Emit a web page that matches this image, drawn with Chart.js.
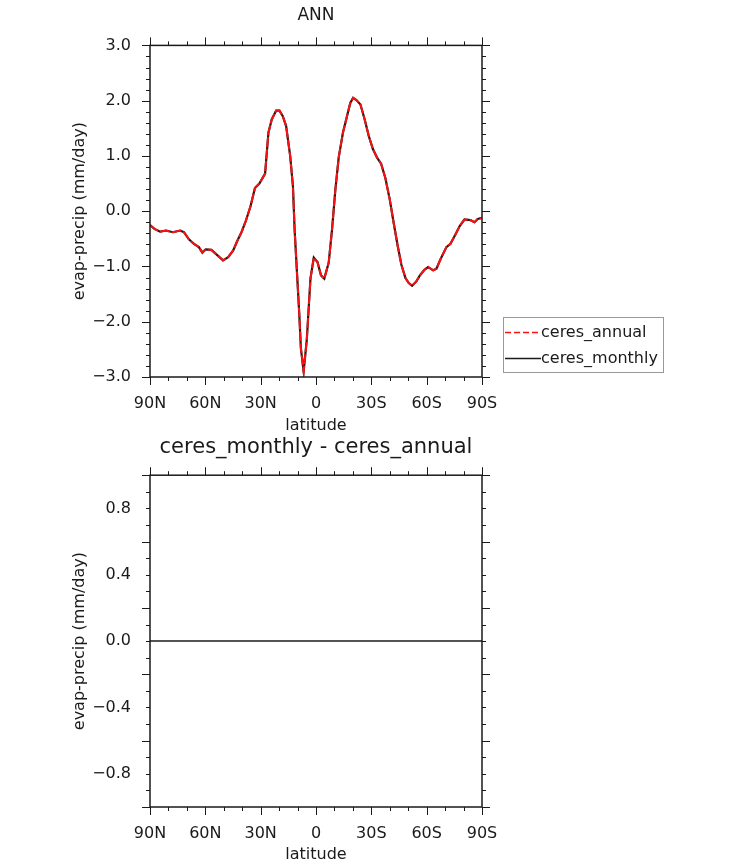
<!DOCTYPE html>
<html>
<head>
<meta charset="utf-8">
<script src="https://cdn.jsdelivr.net/npm/chart.js@4.4.1/dist/chart.umd.min.js"></script>
<style>
  html, body { margin: 0; padding: 0; background: #fff; }
  #wrap { position: relative; width: 733px; height: 866px; }
  #c1 { position: absolute; left: 0; top: 0; }
  #c2 { position: absolute; left: 0; top: 435px; }
</style>
</head>
<body>
<div id="wrap">
  <canvas id="c1" width="733" height="435"></canvas>
  <canvas id="c2" width="733" height="431"></canvas>
</div>
<script>
// ---------------- data ----------------
const latitudes = [
  90, 87.6, 84.5, 81.3, 77.6, 73.6, 71.6, 68.9, 66.2, 63.5,
  61.6, 59.8, 56.7, 54.0, 50.4, 47.6, 44.9, 42.7, 40.4, 38.0,
  35.5, 33.1, 30.7, 27.6, 25.8, 24.0, 21.6, 19.8, 18.0, 16.2,
  14.0, 12.5, 11.6, 10.4, 9.1, 8.2, 6.7, 5.0, 3.0, 1.2,
  -0.8, -2.7, -4.5, -6.9, -8.7, -10.5, -12.3, -14.6, -16.8, -18.6,
  -20.1, -21.9, -24.1, -26.4, -28.6, -30.9, -33.1, -35.3, -37.6, -40.0,
  -42.1, -44.3, -46.3, -48.5, -50.3, -52.1, -54.4, -56.6, -58.8, -60.8,
  -63.5, -65.3, -67.5, -70.7, -72.9, -75.6, -77.9, -80.5, -83.7, -85.9,
  -87.7, -90
];
const ceresAnnual = [
  -0.25, -0.32, -0.37, -0.35, -0.38, -0.35, -0.38, -0.51, -0.59, -0.65,
  -0.75, -0.69, -0.70, -0.78, -0.89, -0.83, -0.71, -0.54, -0.38, -0.17,
  0.09, 0.42, 0.50, 0.68, 1.42, 1.66, 1.82, 1.82, 1.72, 1.54,
  1.00, 0.45, -0.33, -1.06, -1.84, -2.48, -2.90, -2.33, -1.22, -0.84,
  -0.92, -1.16, -1.22, -0.93, -0.33, 0.39, 0.97, 1.42, 1.72, 1.96,
  2.05, 2.01, 1.93, 1.66, 1.36, 1.12, 0.97, 0.86, 0.60, 0.21,
  -0.21, -0.63, -0.97, -1.21, -1.30, -1.35, -1.27, -1.15, -1.06, -1.01,
  -1.07, -1.04, -0.87, -0.65, -0.59, -0.42, -0.27, -0.15, -0.16, -0.20,
  -0.14, -0.12
];
const ceresMonthly = [
  -0.25, -0.32, -0.37, -0.35, -0.38, -0.35, -0.38, -0.51, -0.59, -0.65,
  -0.75, -0.69, -0.70, -0.78, -0.89, -0.83, -0.71, -0.54, -0.38, -0.17,
  0.09, 0.42, 0.50, 0.68, 1.42, 1.66, 1.82, 1.82, 1.72, 1.54,
  1.00, 0.45, -0.33, -1.06, -1.84, -2.48, -2.90, -2.33, -1.22, -0.84,
  -0.92, -1.16, -1.22, -0.93, -0.33, 0.39, 0.97, 1.42, 1.72, 1.96,
  2.05, 2.01, 1.93, 1.66, 1.36, 1.12, 0.97, 0.86, 0.60, 0.21,
  -0.21, -0.63, -0.97, -1.21, -1.30, -1.35, -1.27, -1.15, -1.06, -1.01,
  -1.07, -1.04, -0.87, -0.65, -0.59, -0.42, -0.27, -0.15, -0.16, -0.20,
  -0.14, -0.12
];
const seriesNames = ['ceres_annual', 'ceres_monthly'];
const xTickValues = [90, 60, 30, 0, -30, -60, -90];
const xTickLabels = ['90N', '60N', '30N', '0', '30S', '60S', '90S'];
const topYTicks = [-3, -2, -1, 0, 1, 2, 3];
const bottomYTicks = [-0.8, -0.4, 0, 0.4, 0.8];

// difference panel: monthly minus annual
const diffValues = ceresMonthly.map((v, i) => v - ceresAnnual[i]);

// ---------------- styling ----------------
const FONT = "'DejaVu Sans', 'Liberation Sans', sans-serif";
const INK = '#1a1a1a';
const RED = '#ff1010';

function pts(vals) { return latitudes.map((lat, i) => ({ x: lat, y: vals[i] })); }
function fmtY(v) { return v.toFixed(1).replace('-', '\u2212'); }

// outward ticks on all four sides plus frame
function makeFramePlugin(xMinorStep, xMajorStep, yMin, yMax, yMinorStep, yMajorStep) {
  return {
    id: 'frameTicks',
    afterDraw(chart) {
      const { ctx, chartArea: a, scales: { x, y } } = chart;
      ctx.save();
      ctx.strokeStyle = INK;
      ctx.lineWidth = 1;
      ctx.beginPath();
      const nx = Math.round(180 / xMinorStep);
      for (let i = 0; i <= nx; i++) {
        const v = -90 + i * xMinorStep;
        const px = Math.round(x.getPixelForValue(v)) + 0.5;
        const L = (Math.abs(v) % xMajorStep === 0) ? 8 : 4;
        ctx.moveTo(px, a.bottom); ctx.lineTo(px, a.bottom + L);
        ctx.moveTo(px, a.top); ctx.lineTo(px, a.top - L);
      }
      const ny = Math.round((yMax - yMin) / yMinorStep);
      const ratio = Math.round(yMajorStep / yMinorStep);
      for (let i = 0; i <= ny; i++) {
        const v = yMin + i * yMinorStep;
        const py = Math.round(y.getPixelForValue(v)) + 0.5;
        const major = (Math.round((v - yMin) / yMinorStep) % ratio) === 0;
        const L = major ? 8 : 4;
        ctx.moveTo(a.left, py); ctx.lineTo(a.left - L, py);
        ctx.moveTo(a.right, py); ctx.lineTo(a.right + L, py);
      }
      ctx.stroke();
      ctx.lineWidth = 1.5;
      ctx.strokeRect(a.left, a.top, a.right - a.left, a.bottom - a.top);
      ctx.restore();
    }
  };
}

const legendPlugin = {
  id: 'sideLegend',
  afterDraw(chart) {
    const ctx = chart.ctx;
    ctx.save();
    ctx.strokeStyle = '#999';
    ctx.lineWidth = 1;
    ctx.strokeRect(503.5, 317.5, 160, 55);
    const rows = [
      { y: 332.5, color: RED, dash: [6, 3], label: seriesNames[0] },
      { y: 358.5, color: INK, dash: [], label: seriesNames[1] }
    ];
    ctx.font = '16px ' + FONT;
    ctx.textBaseline = 'middle';
    ctx.textAlign = 'left';
    rows.forEach(r => {
      ctx.beginPath();
      ctx.setLineDash(r.dash);
      ctx.strokeStyle = r.color;
      ctx.lineWidth = 1.5;
      ctx.moveTo(505, r.y); ctx.lineTo(541, r.y);
      ctx.stroke();
      ctx.setLineDash([]);
      ctx.fillStyle = INK;
      ctx.fillText(r.label, 541, r.y);
    });
    ctx.restore();
  }
};

function xScale(bottomHeight, titlePadBottom) {
  return {
    type: 'linear', min: -90, max: 90, reverse: true,
    afterBuildTicks: s => { s.ticks = xTickValues.map(v => ({ value: v })); },
    afterFit: s => { s.height = bottomHeight; },
    grid: { display: false, drawTicks: false },
    border: { display: false },
    ticks: {
      padding: 17, color: INK, font: { family: FONT, size: 16 },
      maxRotation: 0, autoSkip: false,
      callback: v => xTickLabels[xTickValues.indexOf(v)]
    },
    title: { display: true, text: 'latitude', color: INK, font: { family: FONT, size: 16 },
             padding: { top: 0, bottom: titlePadBottom } }
  };
}
function yScale(min, max, tickVals) {
  return {
    type: 'linear', min: min, max: max,
    afterBuildTicks: s => { s.ticks = tickVals.map(v => ({ value: v })); },
    afterFit: s => { s.width = 150; },
    grid: { display: false, drawTicks: false },
    border: { display: false },
    ticks: { padding: 19, color: INK, font: { family: FONT, size: 16 }, autoSkip: false,
             callback: v => fmtY(v) },
    title: { display: true, text: 'evap-precip (mm/day)', color: INK,
             font: { family: FONT, size: 16 }, padding: { top: 70, bottom: 0 } }
  };
}

// ---------------- top panel ----------------
new Chart(document.getElementById('c1'), {
  type: 'line',
  data: {
    datasets: [
      { label: seriesNames[0], data: pts(ceresAnnual), borderColor: RED, borderWidth: 2,
        borderDash: [10, 2], pointRadius: 0, tension: 0, fill: false },
      { label: seriesNames[1], data: pts(ceresMonthly), borderColor: INK, borderWidth: 2.2,
        pointRadius: 0, tension: 0, fill: false }
    ]
  },
  options: {
    responsive: false, animation: false, devicePixelRatio: 1,
    layout: { padding: { left: 0, right: 251, top: 0, bottom: 0 } },
    plugins: {
      legend: { display: false }, tooltip: { enabled: false },
      title: { display: true, text: 'ANN', fullSize: false, color: INK,
               font: { family: FONT, size: 17, weight: 'normal' }, padding: { top: 5, bottom: 20 } }
    },
    scales: { x: xScale(58, 0), y: yScale(-3, 3, topYTicks) }
  },
  plugins: [makeFramePlugin(10, 30, -3, 3, 0.2, 1), legendPlugin]
});

// ---------------- bottom panel ----------------
new Chart(document.getElementById('c2'), {
  type: 'line',
  data: {
    datasets: [
      { label: 'ceres_monthly - ceres_annual', data: pts(diffValues), borderColor: INK,
        borderWidth: 1.5, pointRadius: 0, tension: 0, fill: false }
    ]
  },
  options: {
    responsive: false, animation: false, devicePixelRatio: 1,
    layout: { padding: { left: 0, right: 251, top: 0, bottom: 0 } },
    plugins: {
      legend: { display: false }, tooltip: { enabled: false },
      title: { display: true, text: 'ceres_monthly - ceres_annual', fullSize: false, color: INK,
               font: { family: FONT, size: 21, weight: 'normal' }, padding: { top: 0, bottom: 15 } }
    },
    scales: { x: xScale(59, 2), y: yScale(-1, 1, bottomYTicks) }
  },
  plugins: [makeFramePlugin(10, 30, -1, 1, 0.1, 0.4)]
});
</script>
</body>
</html>
